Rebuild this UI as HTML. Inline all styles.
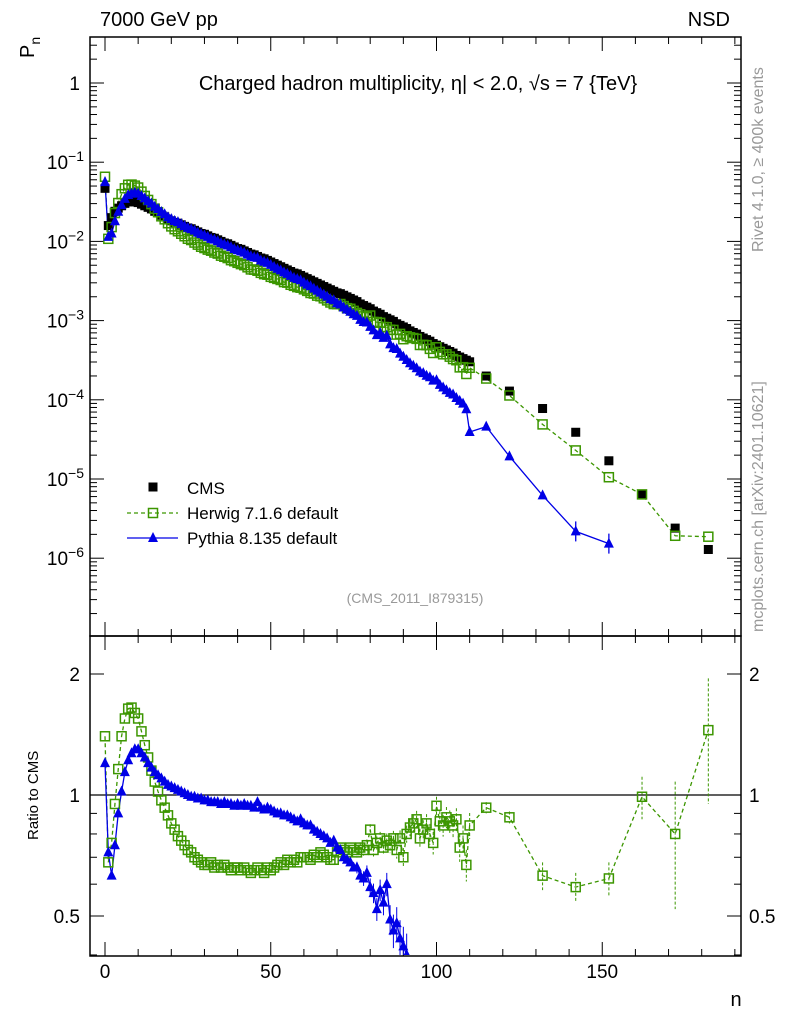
<!DOCTYPE html>
<html><head><meta charset="utf-8"><style>
body{margin:0;background:#fff;overflow:hidden;}
svg{display:block;font-family:"Liberation Sans",sans-serif;}
</style></head><body>
<svg id="c" width="786" height="1024" xmlns="http://www.w3.org/2000/svg"></svg>
<script>
const ns="http://www.w3.org/2000/svg";
const fineN=[];for(let i=0;i<=110;i++)fineN.push(i);
const wideN=[115,122,132,142,152,162,172,182];
const cmsLog=[-1.33,-1.80,-1.70,-1.62,-1.58,-1.55,-1.52,-1.50,-1.50,-1.50,-1.51,-1.53,-1.55,-1.57,-1.59,-1.62,-1.64,-1.67,-1.69,-1.72,-1.74,
-1.76,-1.77,-1.79,-1.81,-1.83,-1.84,-1.86,-1.88,-1.90,-1.91,-1.93,-1.95,-1.96,-1.98,-2.00,-2.02,-2.03,-2.05,-2.07,-2.09,-2.10,-2.12,-2.14,-2.16,-2.17,-2.19,-2.21,-2.22,-2.24,-2.26,
-2.28,-2.30,-2.32,-2.34,-2.36,-2.38,-2.40,-2.41,-2.43,-2.45,-2.47,-2.49,-2.51,-2.53,-2.55,-2.57,-2.59,-2.61,-2.63,-2.65,-2.66,-2.68,-2.70,-2.72,-2.74,
-2.76,-2.79,-2.81,-2.83,-2.85,-2.88,-2.90,-2.92,-2.95,-2.97,-2.99,-3.01,-3.04,-3.06,-3.08,-3.10,-3.13,-3.15,-3.17,-3.20,-3.22,-3.24,-3.26,-3.29,-3.31,
-3.33,-3.35,-3.37,-3.39,-3.41,-3.44,-3.46,-3.48,-3.50,-3.52,
-3.70,-3.89,-4.11,-4.41,-4.77,-5.19,-5.62,-5.89];
const herwigRatio=[1.40,0.68,0.76,0.95,1.16,1.40,1.55,1.64,1.65,1.60,1.55,1.44,1.33,1.24,1.15,1.08,1.02,0.97,0.93,0.89,0.85,0.82,0.79,0.77,0.75,0.73,0.72,0.70,0.69,0.68,0.67,
0.67,0.68,0.66,0.67,0.66,0.67,0.66,0.65,0.66,0.66,0.65,0.66,0.65,0.64,0.65,0.66,0.65,0.64,0.66,0.65,
0.66,0.67,0.68,0.67,0.69,0.68,0.69,0.68,0.70,0.70,0.70,0.69,0.71,0.70,0.72,0.71,0.70,0.69,0.69,0.72,
0.74,0.73,0.72,0.74,0.73,0.72,0.74,0.73,0.75,0.82,0.73,0.76,0.78,0.74,0.77,0.75,0.78,0.73,0.78,0.70,
0.80,0.83,0.85,0.87,0.78,0.82,0.85,0.80,0.76,0.94,0.86,0.84,0.88,0.86,0.84,0.87,0.74,0.78,0.67,0.84,
0.93,0.88,0.63,0.59,0.62,0.99,0.80,1.45];
const pythiaRatio=[1.20,0.72,0.63,0.75,0.90,1.02,1.14,1.22,1.27,1.30,1.30,1.27,1.24,1.20,1.17,1.14,1.12,1.10,1.08,1.06,1.05,1.04,1.03,1.02,1.01,1.00,
0.99,0.99,0.98,0.98,0.97,0.97,0.96,0.96,0.96,0.95,0.96,0.95,0.95,0.94,0.95,
0.94,0.95,0.94,0.94,0.93,0.96,0.93,0.92,0.93,0.92,0.91,0.90,0.90,0.89,0.89,0.88,0.87,0.86,0.87,0.85,
0.84,0.84,0.82,0.81,0.80,0.79,0.78,0.76,0.77,0.74,0.73,0.70,0.69,0.68,0.66,0.66,0.63,0.62,0.64,0.59,
0.57,0.52,0.58,0.54,0.60,0.49,0.46,0.48,0.44,0.42,
0.40,0.39,0.38,0.37,0.36,0.36,0.35,0.35,0.34,0.36,0.33,0.32,0.31,0.30,0.30,0.29,0.28,0.27,0.24,0.13,
0.23,0.15,0.08,0.056,0.09];
const wideHerwigErr=[0.03,0.03,0.05,0.05,0.06,0.12,0.28,0.5];
const xTicks=[0,50,100,150];
const yTicksMain=[0,-1,-2,-3,-4,-5,-6];
const ratioTicks=[2,1,0.5];

const svg=document.getElementById('c');
function el(t,a,p){const e=document.createElementNS(ns,t);for(const k in a)e.setAttribute(k,a[k]);(p||svg).appendChild(e);return e;}
const X0=90,X1=741;
const xs=n=>105+n*3.315;
const ym=l=>83-l*79.2;
const yr=r=>795-Math.log2(r)*121;
const allN=fineN.concat(wideN);

let f=el('rect',{x:X0,y:37,width:X1-X0,height:599,fill:'none',stroke:'#000','stroke-width':1.5});

f=el('rect',{x:X0,y:636,width:X1-X0,height:320,fill:'none',stroke:'#000','stroke-width':1.5});


for(let n=0;n<=190;n+=10){const maj=n%50===0;const L=maj?14:7;
 for(const [y,d] of [[956,-1],[636,1],[636,-1],[37,1]]){el('line',{x1:xs(n),x2:xs(n),y1:y,y2:y+d*L,stroke:'#000'});}}
xTicks.forEach(v=>{const t=el('text',{x:xs(v),y:978,'font-size':19,'text-anchor':'middle'});t.textContent=v;
 });
let t=el('text',{x:736,y:1006,'font-size':20,'text-anchor':'middle'});t.textContent='n';


for(let d=1;d>=-7;d--){for(let m=1;m<10;m++){const y=ym(Math.log10(m)+d);
 if(y<37||y>636)continue;const L=m===1?14:7;
 el('line',{x1:X0,x2:X0+L,y1:y,y2:y,stroke:'#000'});el('line',{x1:X1,x2:X1-L,y1:y,y2:y,stroke:'#000'});}}
yTicksMain.forEach(v=>{const t=el('text',{x:v===0?80:84,y:ym(v)+7,'font-size':19,'text-anchor':'end'});
 if(v===0)t.textContent='1';else{t.textContent='10';const s=el('tspan',{dy:-8,'font-size':14},t);s.textContent=String(v).replace('-','−');}
 });

[0.4,0.5,0.6,0.7,0.8,0.9,1,2].forEach(r=>{const y=yr(r);const L=(r===0.5||r===1||r===2)?14:7;
 el('line',{x1:X0,x2:X0+L,y1:y,y2:y,stroke:'#000'});el('line',{x1:X1,x2:X1-L,y1:y,y2:y,stroke:'#000'});});
ratioTicks.forEach(r=>{for(const [x,a] of [[80,'end'],[749,'start']]){const t=el('text',{x:x,y:yr(r)+7,'font-size':19,'text-anchor':a});t.textContent=r;
 }});
el('line',{x1:X0,x2:X1,y1:yr(1),y2:yr(1),stroke:'#000','stroke-width':1.2});

const defs=el('defs',{});
const cm=el('clipPath',{id:'cm'},defs);el('rect',{x:X0,y:37,width:X1-X0,height:599},cm);
const cr=el('clipPath',{id:'cr'},defs);el('rect',{x:X0,y:637,width:X1-X0,height:318},cr);
const gm=el('g',{'clip-path':'url(#cm)'});
const gr=el('g',{'clip-path':'url(#cr)'});

const green='#3c9600',blue='#0000e6';
function tri(g,x,y,c){return el('polygon',{points:`${x},${y-6} ${x-5},${y+4} ${x+5},${y+4}`,fill:c},g);}
function sq(g,x,y,fill){return el('rect',{x:x-4.5,y:y-4.5,width:9,height:9,fill:fill?'#000':'#fff','fill-opacity':fill?1:0,stroke:fill?'none':green,'stroke-width':1.5},g);}

let hp=[],pp=[];
allN.forEach((n,i)=>{hp.push(xs(n)+','+ym(cmsLog[i]+Math.log10(herwigRatio[i])));
 if(i<pythiaRatio.length)pp.push(xs(n)+','+ym(cmsLog[i]+Math.log10(pythiaRatio[i])));});
el('polyline',{points:hp.join(' '),fill:'none',stroke:green,'stroke-dasharray':'4,3','stroke-width':1.3},gm);
el('polyline',{points:pp.join(' '),fill:'none',stroke:blue,'stroke-width':1.3},gm);
allN.forEach((n,i)=>{const s=sq(gm,xs(n),ym(cmsLog[i]),true);
 });
allN.forEach((n,i)=>{const s=sq(gm,xs(n),ym(cmsLog[i]+Math.log10(herwigRatio[i])),false);
 });
allN.forEach((n,i)=>{if(i>=pythiaRatio.length)return;const y=ym(cmsLog[i]+Math.log10(pythiaRatio[i]));
 if(n>=142)el('line',{x1:xs(n),x2:xs(n),y1:y-10,y2:y+10,stroke:blue,'stroke-width':1.3},gm);
 const s=tri(gm,xs(n),y,blue);});

hp=[];pp=[];
allN.forEach((n,i)=>{hp.push(xs(n)+','+yr(herwigRatio[i]));if(i<pythiaRatio.length)pp.push(xs(n)+','+yr(pythiaRatio[i]));});
el('polyline',{points:hp.join(' '),fill:'none',stroke:green,'stroke-dasharray':'4,3','stroke-width':1.3},gr);
el('polyline',{points:pp.join(' '),fill:'none',stroke:blue,'stroke-width':1.3},gr);
allN.forEach((n,i)=>{const r=herwigRatio[i];const e=i>110?wideHerwigErr[i-111]:(n>75?0.02+(n-75)*0.0012:0);
 if(e>0)el('line',{x1:xs(n),x2:xs(n),y1:yr(r+e),y2:yr(Math.max(r-e,0.3)),stroke:green,'stroke-dasharray':'3,2'},gr);
 const s=sq(gr,xs(n),yr(r),false);});
allN.forEach((n,i)=>{if(i>=pythiaRatio.length)return;const r=pythiaRatio[i];
 if(r<0.4)return;
 if(n>75){const e=0.02+(n-75)*0.002;el('line',{x1:xs(n),x2:xs(n),y1:yr(r+e),y2:yr(Math.max(r-e,0.36)),stroke:blue},gr);}
 const s=tri(gr,xs(n),yr(r),blue);});

let g=el('g',{});
sq(g,153,487,true);t=el('text',{x:187,y:494,'font-size':17},g);t.textContent='CMS';
g=el('g',{});
el('line',{x1:127,x2:178,y1:513,y2:513,stroke:green,'stroke-dasharray':'4,3','stroke-width':1.3},g);sq(g,153,513,false);
t=el('text',{x:187,y:519,'font-size':17},g);t.textContent='Herwig 7.1.6 default';
g=el('g',{});
el('line',{x1:127,x2:178,y1:538,y2:538,stroke:blue,'stroke-width':1.3},g);tri(g,153,538,blue);
t=el('text',{x:187,y:544,'font-size':17},g);t.textContent='Pythia 8.135 default';

function txt(x,y,s,size,name,extra){const t=el('text',Object.assign({x:x,y:y,'font-size':size},extra||{}));t.textContent=s;
 return t;}
txt(100,26,'7000 GeV pp',20,'energy-label');
txt(730,26,'NSD',20,'process-label',{'text-anchor':'end'});
txt(418,90,'Charged hadron multiplicity, η| < 2.0, √s = 7 {TeV}',20,'plot-title',{'text-anchor':'middle'});
txt(415,603,'(CMS_2011_I879315)',14,'analysis-id',{'text-anchor':'middle',fill:'#999'});
txt(0,0,'Rivet 4.1.0, ≥ 400k events',16,'rivet-label',{transform:'translate(763,252) rotate(-90)',fill:'#999'});
txt(0,0,'mcplots.cern.ch [arXiv:2401.10621]',16,'mcplots-label',{transform:'translate(763,632) rotate(-90)',fill:'#999'});
t=txt(0,0,'P',20,'y-axis-title',{transform:'translate(34,58) rotate(-90)'});
const sb=el('tspan',{dy:6,'font-size':14},t);sb.textContent='n';
txt(0,0,'Ratio to CMS',15,'ratio-axis-title',{transform:'translate(38,840) rotate(-90)'});
</script>
</body></html>
